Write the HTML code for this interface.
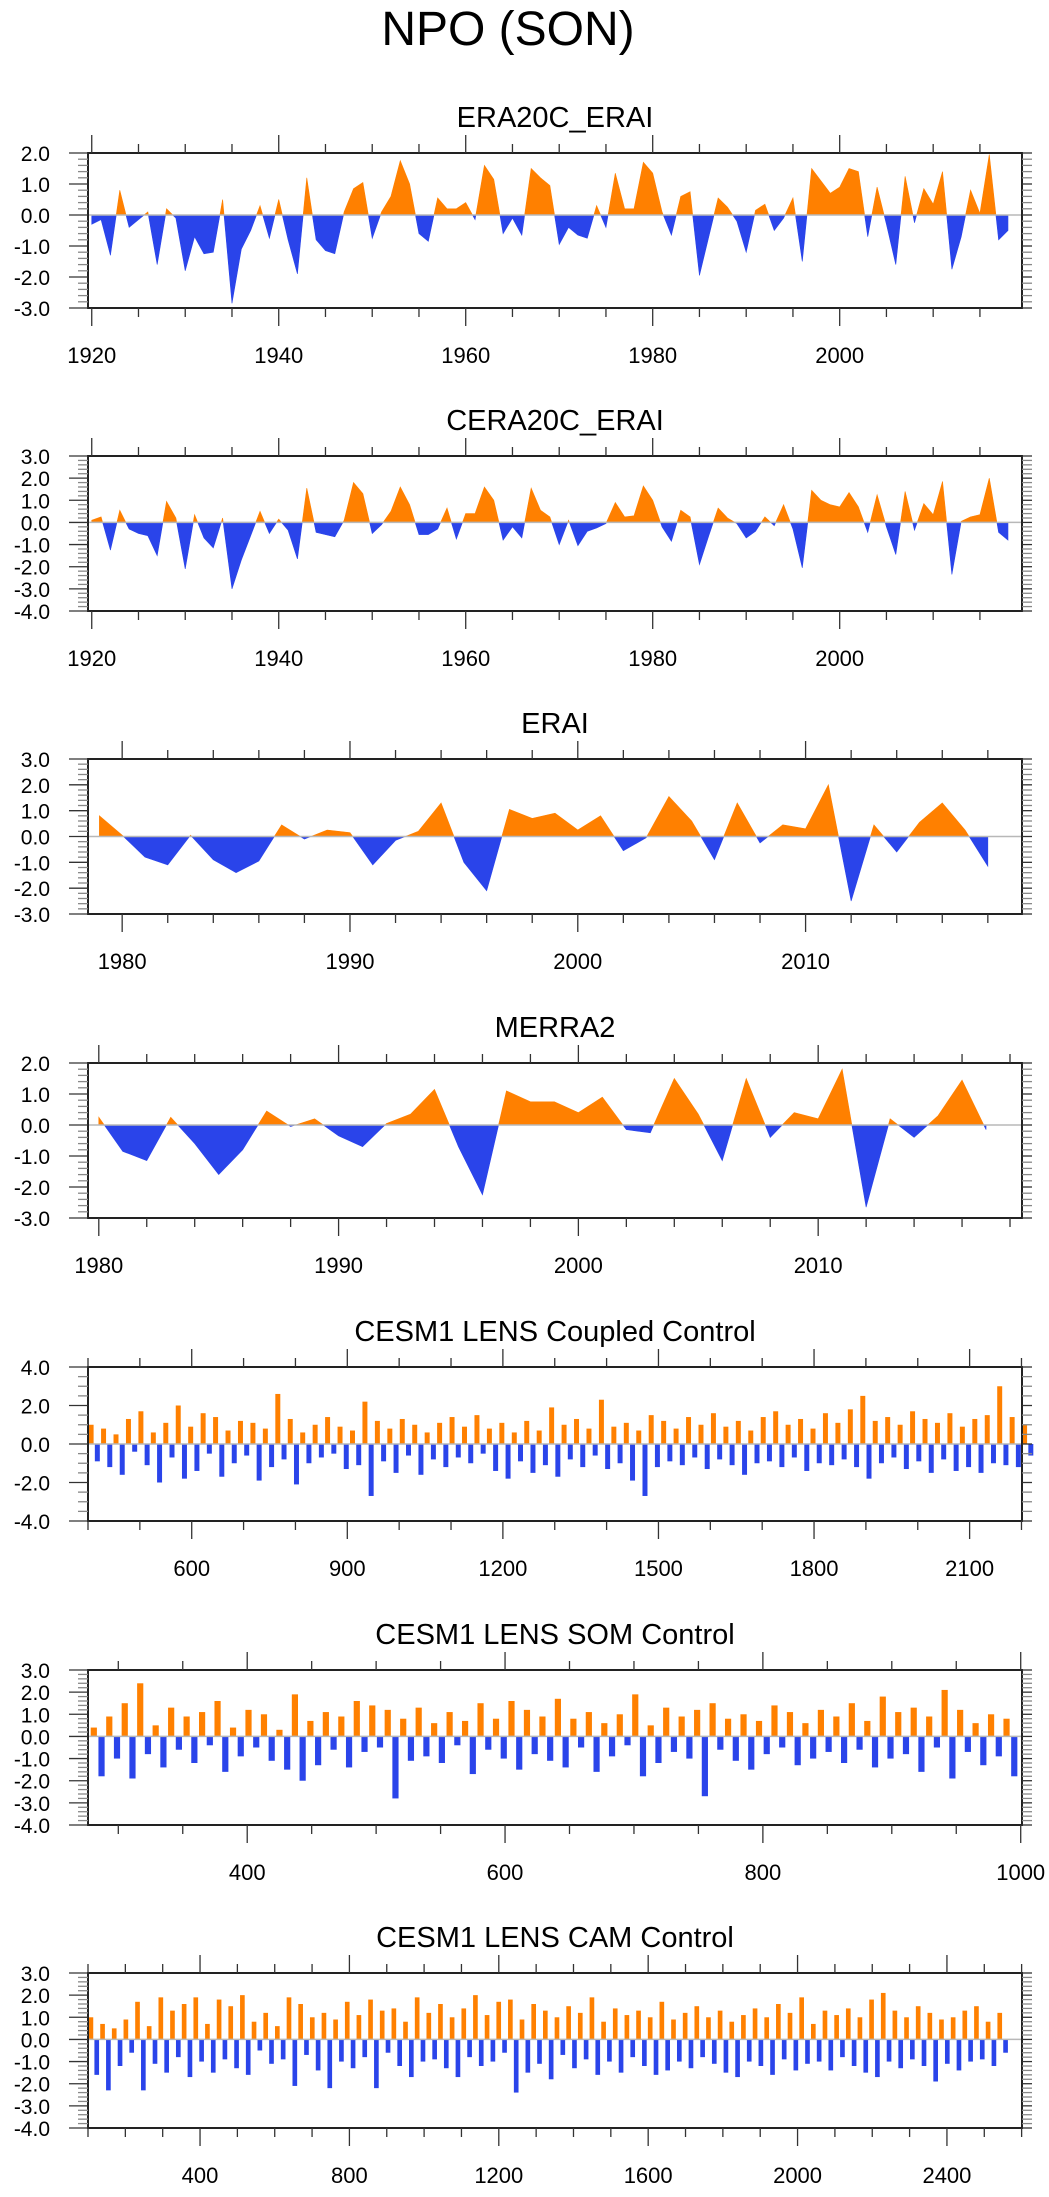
<!DOCTYPE html>
<html><head><meta charset="utf-8"><title>NPO (SON)</title>
<style>
html,body{margin:0;padding:0;background:#fff;}
body{width:1049px;height:2192px;overflow:hidden;font-family:"Liberation Sans",Arial,sans-serif;}
svg text{font-family:"Liberation Sans",Arial,sans-serif;fill:#000;}
</style></head>
<body>
<svg id="chart" width="1049" height="2192" viewBox="0 0 1049 2192" xmlns="http://www.w3.org/2000/svg">
<text x="508" y="45" font-size="48" text-anchor="middle">NPO (SON)</text>
</svg>
<script>
// ---- data ----
const era20cValues = [-0.3,-0.15,-1.3,0.8,-0.4,-0.15,0.1,-1.6,0.2,-0.1,-1.8,-0.7,-1.25,-1.2,0.5,-2.85,-1.1,-0.5,0.3,-0.75,0.5,-0.8,-1.9,1.2,-0.8,-1.15,-1.25,0.1,0.85,1.05,-0.75,0.1,0.6,1.75,1.0,-0.6,-0.85,0.55,0.2,0.2,0.4,-0.15,1.6,1.15,-0.6,-0.1,-0.65,1.5,1.2,0.95,-0.95,-0.4,-0.65,-0.75,0.3,-0.4,1.35,0.2,0.2,1.7,1.35,0.1,-0.65,0.6,0.75,-1.95,-0.7,0.55,0.25,-0.2,-1.2,0.15,0.35,-0.5,-0.1,0.55,-1.5,1.5,1.1,0.7,0.9,1.5,1.4,-0.7,0.9,-0.3,-1.6,1.25,-0.25,0.85,0.35,1.4,-1.75,-0.7,0.8,0.05,1.95,-0.8,-0.5];
const cera20cValues = [0.1,0.25,-1.25,0.55,-0.3,-0.5,-0.6,-1.5,0.95,0.2,-2.1,0.35,-0.7,-1.15,0.2,-3.0,-1.7,-0.6,0.5,-0.5,0.15,-0.35,-1.65,1.55,-0.45,-0.55,-0.65,0.1,1.8,1.3,-0.5,-0.1,0.5,1.6,0.8,-0.55,-0.55,-0.3,0.65,-0.75,0.4,0.4,1.6,1.0,-0.8,-0.2,-0.7,1.55,0.55,0.25,-1.0,0.1,-1.05,-0.4,-0.25,-0.05,0.9,0.25,0.3,1.65,1.0,-0.2,-0.85,0.55,0.25,-1.9,-0.6,0.65,0.2,-0.05,-0.7,-0.4,0.25,-0.15,0.8,-0.3,-2.05,1.45,1.0,0.8,0.7,1.35,0.7,-0.45,1.25,-0.2,-1.45,1.4,-0.35,0.85,0.35,1.85,-2.35,0.05,0.25,0.35,2.0,-0.45,-0.8];
const eraiValues = [0.8,0.05,-0.8,-1.1,0.05,-0.9,-1.4,-0.95,0.45,-0.1,0.25,0.15,-1.1,-0.15,0.2,1.3,-1.0,-2.1,1.05,0.7,0.9,0.25,0.8,-0.55,-0.05,1.55,0.6,-0.9,1.3,-0.25,0.45,0.3,2.0,-2.5,0.45,-0.6,0.55,1.3,0.25,-1.15];
const merra2Values = [0.25,-0.85,-1.15,0.25,-0.6,-1.6,-0.8,0.45,-0.05,0.2,-0.35,-0.7,0.05,0.35,1.15,-0.7,-2.25,1.1,0.75,0.75,0.4,0.9,-0.15,-0.25,1.5,0.35,-1.15,1.5,-0.4,0.4,0.2,1.8,-2.65,0.2,-0.4,0.3,1.45,-0.15];
const coupledValues = [1.0,-0.9,0.8,-1.2,0.5,-1.6,1.3,-0.4,1.7,-1.1,0.6,-2.0,1.1,-0.7,2.0,-1.8,0.9,-1.4,1.6,-0.5,1.4,-1.7,0.7,-1.0,1.2,-0.6,1.1,-1.9,0.8,-1.2,2.6,-0.8,1.3,-2.1,0.6,-1.0,1.0,-0.7,1.4,-0.5,0.9,-1.3,0.7,-1.1,2.2,-2.7,1.2,-0.9,0.8,-1.5,1.3,-0.6,1.0,-1.6,0.6,-0.8,1.1,-1.2,1.4,-0.7,0.9,-1.0,1.5,-0.5,0.8,-1.4,1.1,-1.8,0.6,-0.9,1.2,-1.5,0.7,-1.1,1.9,-1.7,1.0,-0.8,1.3,-1.2,0.8,-0.6,2.3,-1.3,0.9,-1.0,1.1,-1.9,0.7,-2.7,1.5,-1.2,1.2,-0.9,0.8,-1.1,1.4,-0.7,1.0,-1.3,1.6,-0.8,0.9,-1.1,1.2,-1.6,0.7,-1.0,1.4,-0.9,1.7,-1.2,1.0,-0.7,1.3,-1.4,0.8,-1.0,1.6,-1.1,1.1,-0.8,1.8,-1.2,2.5,-1.8,1.2,-1.0,1.4,-0.7,1.0,-1.3,1.7,-0.9,1.3,-1.5,1.1,-0.8,1.6,-1.4,0.9,-1.2,1.3,-1.5,1.5,-1.0,3.0,-1.1,1.4,-1.2,1.0,-0.6];
const somValues = [0.4,-1.8,0.9,-1.0,1.5,-1.9,2.4,-0.8,0.5,-1.4,1.3,-0.6,0.9,-1.2,1.1,-0.4,1.6,-1.6,0.4,-0.9,1.2,-0.5,1.0,-1.1,0.3,-1.5,1.9,-2.0,0.7,-1.3,1.1,-0.6,0.9,-1.4,1.6,-0.7,1.4,-0.5,1.2,-2.8,0.8,-1.1,1.3,-0.9,0.6,-1.2,1.1,-0.4,0.7,-1.7,1.5,-0.6,0.8,-1.0,1.6,-1.5,1.2,-0.8,0.9,-1.1,1.7,-1.4,0.8,-0.5,1.1,-1.6,0.6,-0.9,1.0,-0.4,1.9,-1.8,0.5,-1.2,1.3,-0.7,0.9,-1.0,1.2,-2.7,1.5,-0.6,0.8,-1.1,1.0,-1.5,0.7,-0.8,1.4,-0.5,1.1,-1.3,0.6,-1.0,1.2,-0.7,0.9,-1.2,1.5,-0.6,0.7,-1.4,1.8,-1.0,1.1,-0.8,1.3,-1.6,0.9,-0.5,2.1,-1.9,1.2,-0.7,0.6,-1.3,1.0,-0.9,0.8,-1.8];
const camValues = [1.0,-1.6,0.7,-2.3,0.5,-1.2,0.9,-0.6,1.7,-2.3,0.6,-1.1,1.9,-1.5,1.3,-0.8,1.6,-1.7,1.9,-1.0,0.7,-1.5,1.8,-0.9,1.5,-1.3,2.0,-1.6,0.8,-0.5,1.2,-1.1,0.6,-0.9,1.9,-2.1,1.6,-0.7,1.0,-1.4,1.2,-2.2,0.9,-1.0,1.7,-1.3,1.1,-0.8,1.8,-2.2,1.3,-0.6,1.4,-1.2,0.8,-1.7,1.9,-1.0,1.2,-0.9,1.6,-1.3,1.0,-1.7,1.4,-0.8,2.0,-1.2,1.1,-1.0,1.7,-0.6,1.8,-2.4,0.9,-1.5,1.6,-1.1,1.3,-1.8,1.0,-0.7,1.5,-1.3,1.2,-0.9,1.9,-1.6,0.8,-1.0,1.4,-1.5,1.1,-0.8,1.3,-1.2,1.0,-1.6,1.7,-1.4,0.9,-1.0,1.2,-1.3,1.5,-0.8,1.0,-1.1,1.3,-1.5,0.8,-1.7,1.1,-1.0,1.4,-1.2,1.0,-1.6,1.6,-0.9,1.2,-1.4,1.9,-1.1,0.7,-1.0,1.3,-1.4,1.1,-0.8,1.4,-1.2,1.0,-1.5,1.8,-1.7,2.1,-1.0,1.3,-1.3,1.0,-0.9,1.5,-1.2,1.2,-1.9,0.9,-1.1,1.0,-1.4,1.3,-1.0,1.5,-0.9,0.8,-1.2,1.2,-0.6];
const panelTitles = ["ERA20C_ERAI","CERA20C_ERAI","ERAI","MERRA2","CESM1 LENS Coupled Control","CESM1 LENS SOM Control","CESM1 LENS CAM Control"];
const xTickLabels1 = [1920,1940,1960,1980,2000];
const xTickLabels3 = [1980,1990,2000,2010];
const xTickLabels5 = [600,900,1200,1500,1800,2100];
const xTickLabels6 = [400,600,800,1000];
const xTickLabels7 = [400,800,1200,1600,2000,2400];

const NS="http://www.w3.org/2000/svg";
const svg=document.getElementById('chart');
const ORANGE="#ff8000", BLUE="#2a44ea";
function mk(tag,attrs,parent){const e=document.createElementNS(NS,tag);for(const k in attrs)e.setAttribute(k,attrs[k]);(parent||svg).appendChild(e);return e;}

const L=88,R=1022;
const panels=[
 {name:"era20c-erai",top:153,bot:308,x0:1919.6,x1:2019.5,y0:-3,y1:2,ymaj:1,ymin:0.2,xmaj:20,xmin:5,xlabels:xTickLabels1,mode:"area",start:1920,step:1,vals:era20cValues},
 {name:"cera20c-erai",top:456,bot:611,x0:1919.6,x1:2019.5,y0:-4,y1:3,ymaj:1,ymin:0.2,xmaj:20,xmin:5,xlabels:xTickLabels1,mode:"area",start:1920,step:1,vals:cera20cValues},
 {name:"erai",top:759,bot:914,x0:1978.5,x1:2019.5,y0:-3,y1:3,ymaj:1,ymin:0.2,xmaj:10,xmin:2,xlabels:xTickLabels3,mode:"area",start:1979,step:1,vals:eraiValues},
 {name:"merra2",top:1063,bot:1218,x0:1979.55,x1:2018.5,y0:-3,y1:2,ymaj:1,ymin:0.2,xmaj:10,xmin:2,xlabels:xTickLabels3,mode:"area",start:1980,step:1,vals:merra2Values},
 {name:"coupled-control",top:1367,bot:1521,x0:400,x1:2201,y0:-4,y1:4,ymaj:2,ymin:0.5,xmaj:300,xmin:100,xlabels:xTickLabels5,mode:"bar",start:400,step:12,vals:coupledValues},
 {name:"som-control",top:1670,bot:1825,x0:276.5,x1:1001,y0:-4,y1:3,ymaj:1,ymin:0.2,xmaj:200,xmin:50,xlabels:xTickLabels6,mode:"bar",start:278,step:6,vals:somValues},
 {name:"cam-control",top:1973,bot:2128,x0:100,x1:2601,y0:-4,y1:3,ymaj:1,ymin:0.2,xmaj:400,xmin:100,xlabels:xTickLabels7,mode:"bar",start:100,step:15.6,vals:camValues}
];

panels.forEach((p,pi)=>{
  const g=mk('g',{});
  
  
  const sx=v=>L+(v-p.x0)/(p.x1-p.x0)*(R-L);
  const sy=v=>p.bot-(v-p.y0)/(p.y1-p.y0)*(p.bot-p.top);
  const t=mk('text',{x:555,y:p.top-26,'font-size':29,'text-anchor':'middle'},g);
  t.textContent=panelTitles[pi];
  
  
  const y0=sy(0);
  const sg=mk('g',{},g);
  
  
  if(p.mode==="area"){
    const pts=p.vals.map((v,i)=>[sx(p.start+i*p.step),v]);
    let segs=[],cur=null;
    for(let i=0;i<pts.length;i++){
      const [x,v]=pts[i];const s=v>=0;
      if(cur&&cur.s!==s){
        const [xp,vp]=pts[i-1];const xc=xp+(x-xp)*(vp/(vp-v));
        cur.pts.push([xc,0]);segs.push(cur);cur={s:s,pts:[[xc,0]]};
      }
      if(!cur)cur={s:s,pts:[[x,0]]};
      cur.pts.push([x,v]);
    }
    cur.pts.push([cur.pts[cur.pts.length-1][0],0]);segs.push(cur);
    segs.forEach(sgm=>{
      const d='M'+sgm.pts.map(q=>q[0].toFixed(2)+','+sy(q[1]).toFixed(2)).join('L')+'Z';
      const e=mk('path',{d:d,fill:sgm.s?ORANGE:BLUE,stroke:sgm.s?ORANGE:BLUE,'stroke-width':0.6},sg);
      
      
    });
  } else {
    const bw=(sx(p.start+p.step)-sx(p.start))*0.8;
    p.vals.forEach((v,i)=>{
      const x=sx(p.start+i*p.step+p.step/2);
      const yv=sy(v);
      const b=mk('rect',{x:(x-bw/2).toFixed(2),y:Math.min(yv,y0).toFixed(2),width:bw.toFixed(2),height:Math.abs(yv-y0).toFixed(2),fill:v>=0?ORANGE:BLUE},sg);
      
      
    });
  }
  const z=mk('line',{x1:L,x2:R,y1:y0,y2:y0,stroke:'#b8b8b8','stroke-width':1.5},g);
  
  
  const bx=mk('rect',{x:L,y:p.top,width:R-L,height:p.bot-p.top,fill:'none',stroke:'#222','stroke-width':2},g);
  
  
  const xa=mk('g',{stroke:'#333','stroke-width':1.3},g);
  
  
  const firstMin=Math.ceil(p.x0/p.xmin)*p.xmin;
  for(let v=firstMin;v<=p.x1+1e-6;v+=p.xmin){
    const major=Math.abs(v/p.xmaj-Math.round(v/p.xmaj))<1e-6;
    const len=major?18:9;const x=sx(v);
    mk('line',{x1:x,x2:x,y1:p.top,y2:p.top-len},xa);
    mk('line',{x1:x,x2:x,y1:p.bot,y2:p.bot+len},xa);
  }
  p.xlabels.forEach(v=>{
    const tl=mk('text',{x:sx(v),y:p.bot+55,'font-size':22,'text-anchor':'middle',stroke:'none'},g);
    tl.textContent=String(v);
    
    
  });
  const ya=mk('g',{stroke:'#444','stroke-width':1.3},g);
  
  
  const n=Math.round((p.y1-p.y0)/p.ymin);
  for(let k=0;k<=n;k++){
    const v=p.y0+k*p.ymin;const major=Math.abs(v/p.ymaj-Math.round(v/p.ymaj))<1e-6;
    const y=sy(v);
    mk('line',{x1:L,x2:L-(major?19:10),y1:y,y2:y,stroke:major?'#333':'#888'},ya);
    mk('line',{x1:R,x2:R+10,y1:y,y2:y,stroke:major?'#333':'#888'},ya);
    if(major){
      const tl=mk('text',{x:50,y:y+8,'font-size':21,'text-anchor':'end',stroke:'none'},g);
      tl.textContent=v.toFixed(1);
      
      
    }
  }
});
</script>
</body></html>
